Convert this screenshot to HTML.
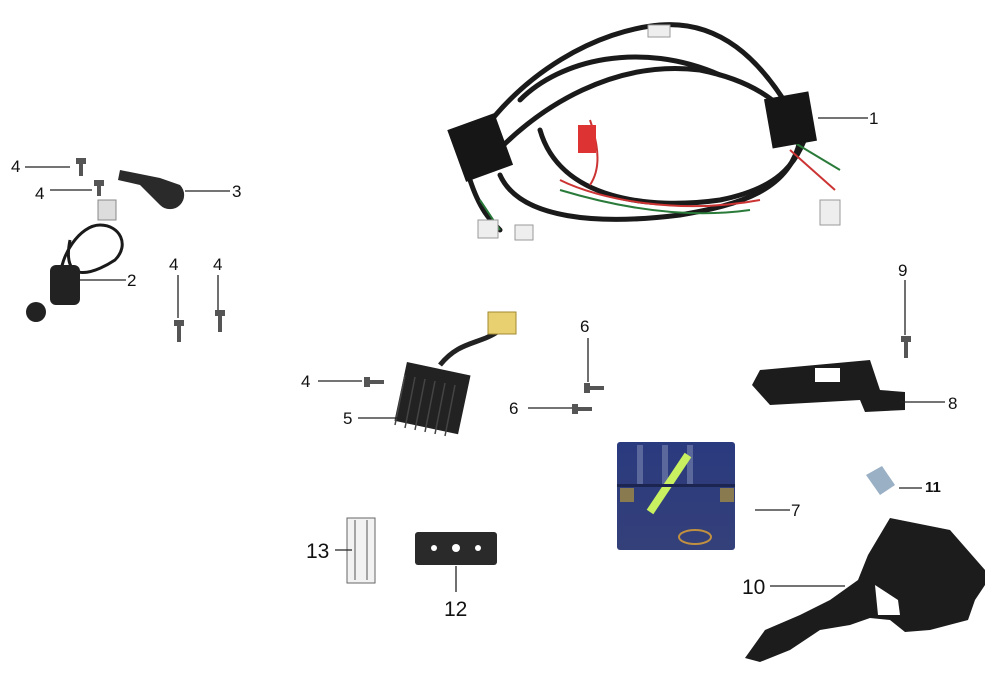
<!DOCTYPE html>
<html><head><meta charset="utf-8">
<style>
html,body{margin:0;padding:0;background:#fff;}
#c{position:relative;width:1000px;height:685px;overflow:hidden;background:#fff;font-family:"Liberation Sans",sans-serif;}
.l{position:absolute;font-size:17px;color:#111;line-height:1;}
.b{font-size:21px;}
svg{position:absolute;left:0;top:0;}
</style></head><body><div id="c">
<svg width="1000" height="685" viewBox="0 0 1000 685">
<defs><linearGradient id="bat" x1="0" y1="0" x2="0" y2="1"><stop offset="0" stop-color="#2a3a7e"/><stop offset="1" stop-color="#34407a"/></linearGradient></defs>
<!-- harness -->
<g fill="none" stroke="#1a1a1a" stroke-width="5" stroke-linecap="round">
<path d="M470 150 C520 70 600 30 660 25 C720 20 760 60 790 110"/>
<path d="M480 170 C540 100 620 60 700 70 C750 80 780 100 800 130"/>
<path d="M500 175 C520 220 600 225 680 215 C740 205 790 190 800 140"/>
<path d="M540 130 C560 200 650 210 720 200 C770 190 800 170 810 120"/>
<path d="M520 100 C560 60 640 40 720 75"/>
<path d="M470 180 C480 210 490 220 500 230"/>
</g>
<g fill="none" stroke-width="2">
<path d="M560 180 C600 200 680 215 760 200" stroke="#c33"/>
<path d="M560 190 C610 205 680 220 750 210" stroke="#2a7a3a"/>
<path d="M590 120 C600 150 600 170 590 185" stroke="#c33"/>
<path d="M790 140 L840 170" stroke="#2a7a3a"/>
<path d="M790 150 L835 190" stroke="#c33"/>
<path d="M480 200 L500 230" stroke="#2a7a3a"/>
</g>
<rect x="455" y="120" width="50" height="55" fill="#161616" transform="rotate(-20 480 147)"/>
<rect x="768" y="95" width="45" height="50" fill="#161616" transform="rotate(-10 790 120)"/>
<rect x="578" y="125" width="18" height="28" fill="#d33"/>
<rect x="478" y="220" width="20" height="18" fill="#eee" stroke="#999"/>
<rect x="515" y="225" width="18" height="15" fill="#eee" stroke="#999"/>
<rect x="820" y="200" width="20" height="25" fill="#eee" stroke="#999"/>
<rect x="648" y="25" width="22" height="12" fill="#eee" stroke="#999"/>
<!-- key switch -->
<g fill="none" stroke="#1a1a1a" stroke-width="3">
<path d="M70 240 C60 290 100 270 115 260 C130 245 120 225 100 225 C80 225 60 255 60 280"/>
</g>
<rect x="50" y="265" width="30" height="40" fill="#222" rx="6"/>
<circle cx="36" cy="312" r="10" fill="#222"/>
<rect x="98" y="200" width="18" height="20" fill="#ddd" stroke="#888"/>
<!-- bracket 3 -->
<path d="M120 170 L160 178 L180 185 A14 14 0 1 1 160 205 L140 185 L118 180 Z" fill="#2a2a2a"/>
<!-- screws -->
<g fill="#555">
<rect x="76" y="158" width="10" height="6"/><rect x="79" y="164" width="4" height="12"/>
<rect x="94" y="180" width="10" height="6"/><rect x="97" y="186" width="4" height="10"/>
<rect x="174" y="320" width="10" height="6"/><rect x="177" y="326" width="4" height="16"/>
<rect x="215" y="310" width="10" height="6"/><rect x="218" y="316" width="4" height="16"/>
<rect x="364" y="377" width="6" height="10"/><rect x="370" y="380" width="14" height="4"/>
<rect x="584" y="383" width="6" height="10"/><rect x="590" y="386" width="14" height="4"/>
<rect x="572" y="404" width="6" height="10"/><rect x="578" y="407" width="14" height="4"/>
<rect x="901" y="336" width="10" height="6"/><rect x="904" y="342" width="4" height="16"/>
</g>
<!-- regulator 5 -->
<rect x="400" y="368" width="65" height="60" fill="#222" transform="rotate(12 432 398)"/>
<g stroke="#444" stroke-width="1.5"><path d="M405 375 L395 425 M415 377 L405 428 M425 379 L415 430 M435 381 L425 432 M445 383 L435 434 M455 385 L445 436"/></g>
<path d="M440 365 C460 340 480 345 500 330" stroke="#222" stroke-width="5" fill="none"/>
<rect x="488" y="312" width="28" height="22" fill="#e8d070" stroke="#a08a30"/>
<!-- bracket 8 -->
<path d="M760 370 L870 360 L880 390 L905 392 L905 410 L865 412 L860 400 L770 405 L752 385 Z" fill="#1c1c1c"/>
<rect x="815" y="368" width="25" height="14" fill="#fff"/>
<!-- battery 7 -->
<rect x="617" y="442" width="118" height="108" rx="3" fill="url(#bat)"/>
<path d="M640 445 V485 M665 445 V485 M690 445 V485" stroke="#7a86b0" stroke-width="6" opacity="0.6"/>
<path d="M650 512 L688 455" stroke="#c8f060" stroke-width="8"/>
<rect x="617" y="484" width="118" height="3" fill="#1c2550"/>
<rect x="620" y="488" width="14" height="14" fill="#8a7a50"/><rect x="720" y="488" width="14" height="14" fill="#8a7a50"/>
<ellipse cx="695" cy="537" rx="16" ry="7" fill="none" stroke="#c09040" stroke-width="2"/>
<!-- 11 clip -->
<path d="M866 475 L882 466 L895 485 L880 495 Z" fill="#9ab0c5"/>
<!-- 10 tray -->
<path d="M890 518 L950 530 L985 570 L985 585 L975 600 L968 620 L930 630 L905 632 L890 620 L870 618 L850 625 L820 630 L790 650 L760 662 L745 658 L765 630 L800 615 L830 600 L858 580 L868 555 Z" fill="#1c1c1c"/>
<path d="M875 585 L898 600 L900 615 L878 615 Z" fill="#fff"/>
<!-- 13 -->
<rect x="347" y="518" width="28" height="65" fill="#f2f2f2" stroke="#666"/>
<path d="M355 520 V580 M367 520 V580" stroke="#555"/>
<!-- 12 -->
<rect x="415" y="532" width="82" height="33" rx="3" fill="#2a2a2a"/>
<circle cx="434" cy="548" r="3" fill="#fff"/><circle cx="456" cy="548" r="4" fill="#fff"/><circle cx="478" cy="548" r="3" fill="#fff"/>
<!-- leader lines -->
<g stroke="#222" stroke-width="1.3">
<path d="M818 118 H868"/><path d="M25 167 H70"/><path d="M50 190 H92"/><path d="M185 191 H230"/>
<path d="M80 280 H126"/><path d="M178 275 V318"/><path d="M218 275 V310"/><path d="M905 280 V335"/>
<path d="M318 381 H362"/><path d="M358 418 H400"/><path d="M588 338 V382"/><path d="M528 408 H572"/>
<path d="M900 402 H945"/><path d="M899 488 H922"/><path d="M755 510 H790"/><path d="M335 550 H352"/>
<path d="M456 566 V592"/><path d="M770 586 H845"/>
</g>
</svg>
<div class="l" style="left:869px;top:110px">1</div>
<div class="l" style="left:11px;top:158px">4</div>
<div class="l" style="left:35px;top:185px">4</div>
<div class="l" style="left:232px;top:183px">3</div>
<div class="l" style="left:127px;top:272px">2</div>
<div class="l" style="left:169px;top:256px">4</div>
<div class="l" style="left:213px;top:256px">4</div>
<div class="l" style="left:898px;top:262px">9</div>
<div class="l" style="left:301px;top:373px">4</div>
<div class="l" style="left:343px;top:410px">5</div>
<div class="l" style="left:580px;top:318px">6</div>
<div class="l" style="left:509px;top:400px">6</div>
<div class="l" style="left:948px;top:395px">8</div>
<div class="l" style="left:925px;top:480px;font-weight:bold;font-size:15px">11</div>
<div class="l" style="left:791px;top:502px">7</div>
<div class="l b" style="left:306px;top:541px">13</div>
<div class="l b" style="left:444px;top:599px">12</div>
<div class="l b" style="left:742px;top:577px">10</div>
</div></body></html>
